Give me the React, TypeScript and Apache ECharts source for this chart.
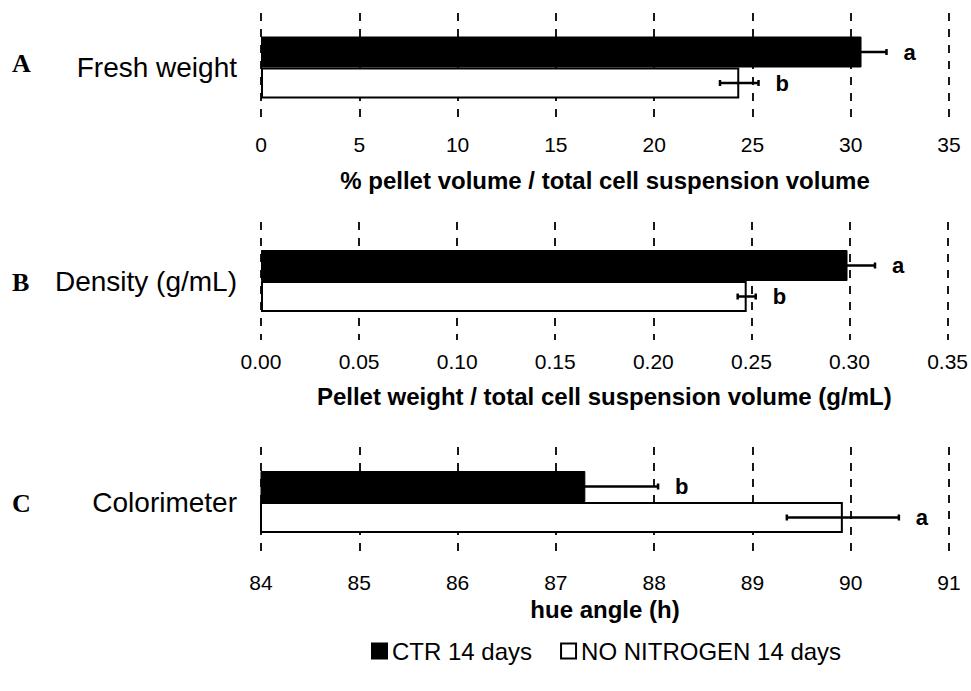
import React, { useEffect, useRef } from "react";
import * as echarts from "echarts";

const panelLetters = ["A", "B", "C"];
const categories = ["Fresh weight", "Density (g/mL)", "Colorimeter"];
const axisTitles = [
  "% pellet volume / total cell suspension volume",
  "Pellet weight / total cell suspension volume (g/mL)",
  "hue angle (h)",
];
const axisMin = [0, 0, 84];
const axisMax = [35, 0.35, 91];
const axisInterval = [5, 0.05, 1];
const axisDecimals = [0, 2, 0];

const seriesNames = ["CTR 14 days", "NO NITROGEN 14 days"];
const ctrValues = [30.55, 0.299, 87.3];
const ctrErrors = [1.27, 0.014, 0.74];
const ctrLetters = ["a", "a", "b"];
const noNValues = [24.33, 0.2476, 89.92];
const noNErrors = [0.98, 0.0046, 0.57];
const noNLetters = ["b", "b", "a"];

const FONT = "Liberation Sans";
const gridTops = [13, 222, 447];
const gridHeights = [109, 118, 110];
const labelMargins = [12, 11, 15];
const nameGaps = [46, 44, 40];
const letterYs = [63, 282, 503];
const BAR = 31;

export default function App() {
  const ref = useRef<HTMLDivElement>(null);
  useEffect(() => {
    if (!ref.current) return;
    const chart = echarts.init(ref.current, null, { renderer: "svg" });

    const grids: any[] = [];
    const xAxes: any[] = [];
    const yAxes: any[] = [];
    const series: any[] = [];
    const graphics: any[] = [];

    for (let i = 0; i < 3; i++) {
      grids.push({ left: 261, right: 22, top: gridTops[i], height: gridHeights[i] });
      const dec = axisDecimals[i];
      xAxes.push({
        type: "value",
        gridIndex: i,
        min: axisMin[i],
        max: axisMax[i],
        interval: axisInterval[i],
        axisLine: { show: false },
        axisTick: { show: false },
        axisLabel: {
          color: "#000",
          fontFamily: FONT,
          fontSize: 21,
          margin: labelMargins[i],
          formatter: (v: number) => v.toFixed(dec),
        },
        splitLine: {
          show: true,
          lineStyle: { color: "#000", type: [8, 8], width: 1.8 },
        },
        name: axisTitles[i],
        nameLocation: "middle",
        nameGap: nameGaps[i],
        nameTextStyle: {
          color: "#000",
          fontFamily: FONT,
          fontSize: 24,
          fontWeight: "bold",
        },
      });
      yAxes.push({
        type: "category",
        gridIndex: i,
        data: [categories[i]],
        axisLine: { show: false },
        axisTick: { show: false },
        splitLine: { show: false },
        axisLabel: { color: "#000", fontFamily: FONT, fontSize: 28, margin: 24 },
      });
      series.push({
        type: "bar",
        name: seriesNames[0],
        xAxisIndex: i,
        yAxisIndex: i,
        barWidth: BAR,
        barGap: "0%",
        itemStyle: { color: "#000", borderColor: "#000", borderWidth: 1 },
        data: [ctrValues[i]],
      });
      series.push({
        type: "bar",
        name: seriesNames[1],
        xAxisIndex: i,
        yAxisIndex: i,
        barWidth: BAR,
        barGap: "0%",
        itemStyle: { color: "#fff", borderColor: "#000", borderWidth: 2 },
        data: [noNValues[i]],
      });
      const letters = [ctrLetters[i], noNLetters[i]];
      series.push({
        type: "custom",
        xAxisIndex: i,
        yAxisIndex: i,
        silent: true,
        z: 10,
        encode: { x: 0, y: 1 },
        data: [
          [ctrValues[i], 0, ctrErrors[i], -1],
          [noNValues[i], 0, noNErrors[i], 1],
        ],
        renderItem: (params: any, api: any) => {
          const v = api.value(0);
          const err = api.value(2);
          const sign = api.value(3);
          const c = api.coord([v, 0]);
          const y = c[1] + (sign * BAR) / 2;
          const l = api.coord([v - err, 0])[0];
          const r = api.coord([v + err, 0])[0];
          const ls = { stroke: "#000", lineWidth: 2.5 };
          return {
            type: "group",
            children: [
              { type: "line", shape: { x1: l, y1: y, x2: r, y2: y }, style: ls },
              { type: "line", shape: { x1: l, y1: y - 3, x2: l, y2: y + 3 }, style: ls },
              { type: "line", shape: { x1: r, y1: y - 3, x2: r, y2: y + 3 }, style: ls },
              {
                type: "text",
                x: r + 17,
                y: y,
                style: {
                  text: letters[params.dataIndex],
                  fill: "#000",
                  font: `bold 22px "${FONT}"`,
                  textAlign: "left",
                  textVerticalAlign: "middle",
                },
              },
            ],
          };
        },
      });
      graphics.push({
        type: "text",
        x: 12,
        y: letterYs[i],
        style: {
          text: panelLetters[i],
          fill: "#000",
          font: 'bold 26px "Liberation Serif"',
          textAlign: "left",
          textVerticalAlign: "middle",
        },
      });
    }

    chart.setOption({
      animation: false,
      backgroundColor: "#fff",
      grid: grids,
      xAxis: xAxes,
      yAxis: yAxes,
      series,
      graphic: graphics,
      legend: {
        data: seriesNames,
        left: 366,
        top: 634,
        icon: "rect",
        itemWidth: 15,
        itemHeight: 15,
        itemGap: 28,
        selectedMode: false,
        textStyle: { color: "#000", fontFamily: FONT, fontSize: 24 },
      },
    });
    return () => chart.dispose();
  }, []);
  return (
    <div
      ref={ref}
      style={{ position: "fixed", left: 0, top: 0, width: 971, height: 691 }}
    />
  );
}
